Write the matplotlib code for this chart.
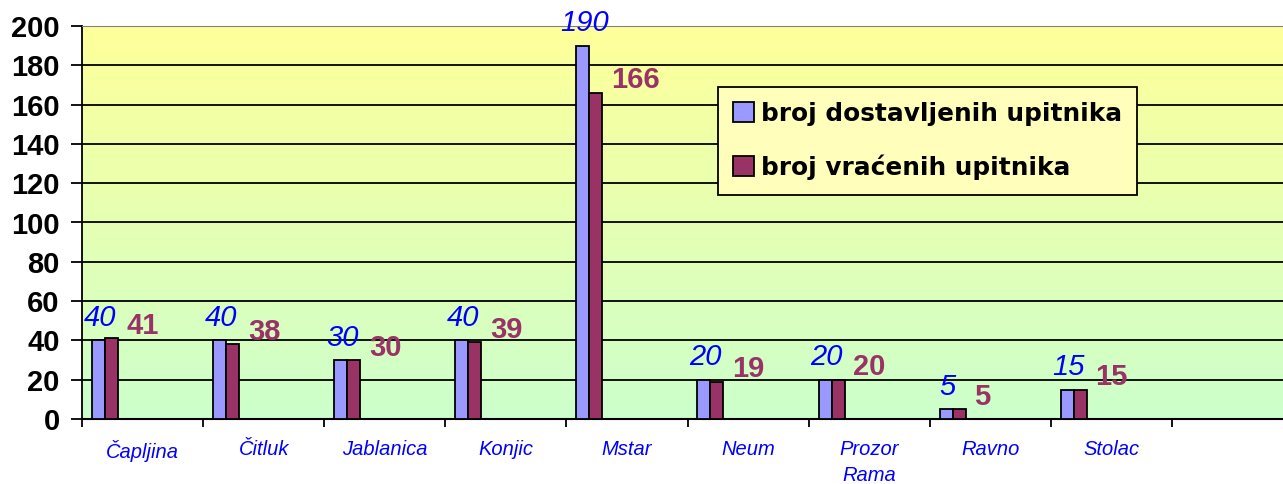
import numpy as np
import matplotlib.pyplot as plt
from matplotlib.colors import LinearSegmentedColormap

categories = ['Čapljina', 'Čitluk', 'Jablanica', 'Konjic', 'Mstar', 'Neum',
              'Prozor\nRama', 'Ravno', 'Stolac']
dostavljeni = [40, 40, 30, 40, 190, 20, 20, 5, 15]
vraceni = [41, 38, 30, 39, 166, 19, 20, 5, 15]
yticks = [0, 20, 40, 60, 80, 100, 120, 140, 160, 180, 200]

blue = '#9999FF'
red = '#993366'

fig = plt.figure(figsize=(12.83, 4.84), dpi=100)
ax = fig.add_axes([82 / 1283, 65 / 484, 1201 / 1283, 393 / 484])

# gradient background, yellow on top, green at the bottom
cmap = LinearSegmentedColormap.from_list('bg', ['#CCFFCC', '#FFFF99'])
grad = np.linspace(0, 1, 256).reshape(-1, 1)
ax.imshow(grad, cmap=cmap, aspect='auto', origin='lower',
          extent=[0, 1, 0, 1], transform=ax.transAxes, zorder=0)

slot = np.arange(len(categories))
w = 0.107
ax.bar(slot + 0.136, dostavljeni, w, color=blue, edgecolor='black',
       linewidth=1.3, zorder=3, label='broj dostavljenih upitnika')
ax.bar(slot + 0.243, vraceni, w, color=red, edgecolor='black',
       linewidth=1.3, zorder=3, label='broj vraćenih upitnika')

for i in range(len(categories)):
    ax.annotate(str(dostavljeni[i]), (i + 0.15, dostavljeni[i]),
                xytext=(0, 6), textcoords='offset points', ha='center',
                va='bottom', color='#0000FF', fontsize=21, style='italic',
                family='Liberation Sans', zorder=5)
    ax.annotate(str(vraceni[i]), (i + 0.37, vraceni[i]),
                xytext=(0, 9), textcoords='offset points', ha='left',
                va='center', color=red, fontsize=21, fontweight='bold',
                family='Liberation Sans', zorder=5)

ax.set_xlim(0, 1201 / 121.1)
ax.set_ylim(0, 200)
ax.set_yticks(yticks)
ax.set_yticklabels([str(v) for v in yticks], fontsize=21, fontweight='bold',
                   family='Liberation Sans')
ax.yaxis.grid(True, color='black', linewidth=1.3, zorder=1)
ax.set_axisbelow(True)

ax.set_xticks(np.arange(0, 10))
ax.set_xticklabels([])
ax.set_xticks(slot + 0.5, minor=True)
ax.set_xticklabels(categories, minor=True, fontsize=14.5, style='italic',
                   color='#0000FF', family='Liberation Sans', linespacing=1.45)
ax.tick_params(axis='x', which='minor', length=0, pad=15)
ax.tick_params(axis='x', which='major', length=6, width=1.3, direction='out')
ax.tick_params(axis='y', length=8, width=1.3, pad=8)

ax.spines['right'].set_visible(False)
ax.spines['top'].set_color('#808080')
ax.spines['left'].set_linewidth(1.3)
ax.spines['bottom'].set_linewidth(1.5)

leg = ax.legend(loc='upper left', bbox_to_anchor=(636 / 1201, 332 / 393),
                prop={'family': 'DejaVu Sans', 'weight': 'bold', 'size': 17.8},
                frameon=True, fancybox=False, edgecolor='black',
                facecolor='#FFFFBB', framealpha=1, handlelength=0.85,
                handleheight=0.85, handletextpad=0.3, labelspacing=1.15,
                borderpad=0.6, borderaxespad=0)
leg.get_frame().set_linewidth(1.3)

fig.savefig('out.png', dpi=100)
